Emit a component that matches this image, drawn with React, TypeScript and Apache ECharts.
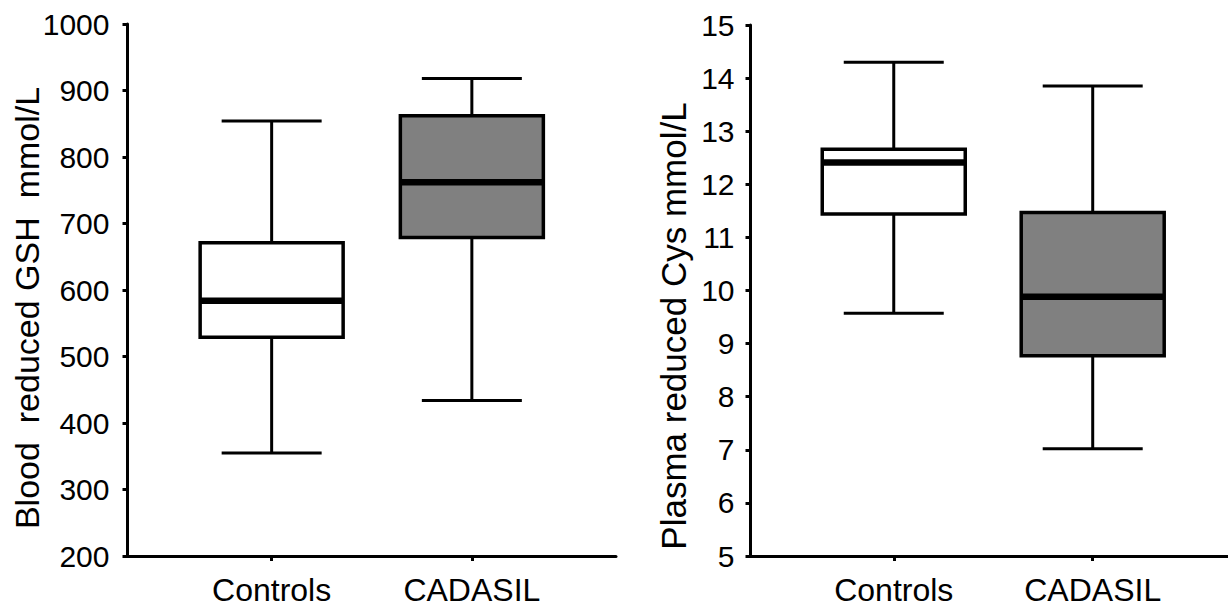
import React, { useEffect, useRef } from "react";
import * as echarts from "echarts";

const categories = ["Controls", "CADASIL"];

// Blood reduced GSH (left panel)
const gshMin = [355, 434];
const gshQ1 = [529, 679];
const gshMedian = [584, 762];
const gshQ3 = [671, 862];
const gshMax = [854, 918];

// Plasma reduced Cys (right panel)
const cysMin = [9.57, 7.02];
const cysQ1 = [11.44, 8.77];
const cysMedian = [12.41, 9.88];
const cysQ3 = [12.66, 11.47];
const cysMax = [14.3, 13.85];

const gshTicks = [200, 300, 400, 500, 600, 700, 800, 900, 1000];
const cysTicks = [5, 6, 7, 8, 9, 10, 11, 12, 13, 14, 15];

const boxFills = ["#ffffff", "#808080"];
const FONT = "'Liberation Sans', Arial, Helvetica, sans-serif";

function buildRows(mins: number[], q1: number[], med: number[], q3: number[], max: number[]) {
  return categories.map((_, i) => [i + 1, mins[i], q1[i], med[i], q3[i], max[i]]);
}

function renderBox(params: any, api: any) {
  const x = api.value(0);
  const lo = api.coord([x, api.value(1)]);
  const q1 = api.coord([x, api.value(2)]);
  const med = api.coord([x, api.value(3)]);
  const q3 = api.coord([x, api.value(4)]);
  const hi = api.coord([x, api.value(5)]);
  const cx = lo[0];
  const halfBox = 71.5;
  const halfCap = 50;
  const stroke = { stroke: "#000", lineWidth: 3 };
  return {
    type: "group",
    children: [
      { type: "line", shape: { x1: cx, y1: q3[1], x2: cx, y2: hi[1] }, style: stroke },
      { type: "line", shape: { x1: cx, y1: q1[1], x2: cx, y2: lo[1] }, style: stroke },
      { type: "line", shape: { x1: cx - halfCap, y1: hi[1], x2: cx + halfCap, y2: hi[1] }, style: stroke },
      { type: "line", shape: { x1: cx - halfCap, y1: lo[1], x2: cx + halfCap, y2: lo[1] }, style: stroke },
      {
        type: "rect",
        shape: { x: cx - halfBox, y: q3[1], width: halfBox * 2, height: q1[1] - q3[1] },
        style: { fill: boxFills[params.dataIndex], stroke: "#000", lineWidth: 3.5 },
      },
      {
        type: "line",
        shape: { x1: cx - halfBox, y1: med[1], x2: cx + halfBox, y2: med[1] },
        style: { stroke: "#000", lineWidth: 6.5 },
      },
    ],
  };
}

function xAxisFor(gridIndex: number, min: number, max: number) {
  return {
    type: "value",
    gridIndex,
    min,
    max,
    splitLine: { show: false },
    axisLine: { show: true, onZero: false, lineStyle: { color: "#000", width: 3 } },
    axisTick: { show: true, customValues: [1, 2], length: 5, lineStyle: { color: "#000", width: 3 } },
    axisLabel: {
      customValues: [1, 2],
      formatter: (v: number) => categories[Math.round(v) - 1] ?? "",
      color: "#000",
      fontSize: 32,
      fontFamily: FONT,
      margin: 18,
    },
  };
}

function yAxisFor(gridIndex: number, min: number, max: number, interval: number, margin: number) {
  return {
    type: "value",
    gridIndex,
    min,
    max,
    interval,
    splitLine: { show: false },
    axisLine: { show: true, onZero: false, lineStyle: { color: "#000", width: 3 } },
    axisTick: { show: true, length: 5, lineStyle: { color: "#000", width: 3 } },
    axisLabel: {
      color: "#000",
      fontSize: 30,
      fontFamily: FONT,
      margin,
      formatter: (v: number) => String(v),
    },
  };
}

export default function App() {
  const ref = useRef<HTMLDivElement>(null);
  useEffect(() => {
    document.body.style.margin = "0";
    if (!ref.current) return;
    const chart = echarts.init(ref.current, undefined, { renderer: "svg" });
    chart.setOption({
      animation: false,
      backgroundColor: "#ffffff",
      grid: [
        { left: 127.5, top: 24, width: 488.5, height: 532 },
        { left: 750.5, top: 25, width: 477.5, height: 531 },
      ],
      xAxis: [xAxisFor(0, 0.28, 2.72), xAxisFor(1, 0.28, 2.68)],
      yAxis: [
        yAxisFor(0, gshTicks[0], gshTicks[gshTicks.length - 1], 100, 18),
        yAxisFor(1, cysTicks[0], cysTicks[cysTicks.length - 1], 1, 16),
      ],
      series: [
        {
          type: "custom",
          xAxisIndex: 0,
          yAxisIndex: 0,
          renderItem: renderBox,
          encode: { x: 0, y: [1, 2, 3, 4, 5] },
          data: buildRows(gshMin, gshQ1, gshMedian, gshQ3, gshMax),
          clip: false,
        },
        {
          type: "custom",
          xAxisIndex: 1,
          yAxisIndex: 1,
          renderItem: renderBox,
          encode: { x: 0, y: [1, 2, 3, 4, 5] },
          data: buildRows(cysMin, cysQ1, cysMedian, cysQ3, cysMax),
          clip: false,
        },
      ],
      graphic: [
        {
          type: "text",
          x: 27,
          y: 308,
          rotation: Math.PI / 2,
          style: {
            text: "Blood  reduced GSH  mmol/L",
            font: `34px ${FONT}`,
            fill: "#000",
            textAlign: "center",
            textVerticalAlign: "middle",
          },
        },
        {
          type: "text",
          x: 673,
          y: 326,
          rotation: Math.PI / 2,
          style: {
            text: "Plasma reduced Cys mmol/L",
            font: `35px ${FONT}`,
            fill: "#000",
            textAlign: "center",
            textVerticalAlign: "middle",
          },
        },
      ],
    });
    return () => chart.dispose();
  }, []);
  return <div ref={ref} style={{ width: 1228, height: 607 }} />;
}
